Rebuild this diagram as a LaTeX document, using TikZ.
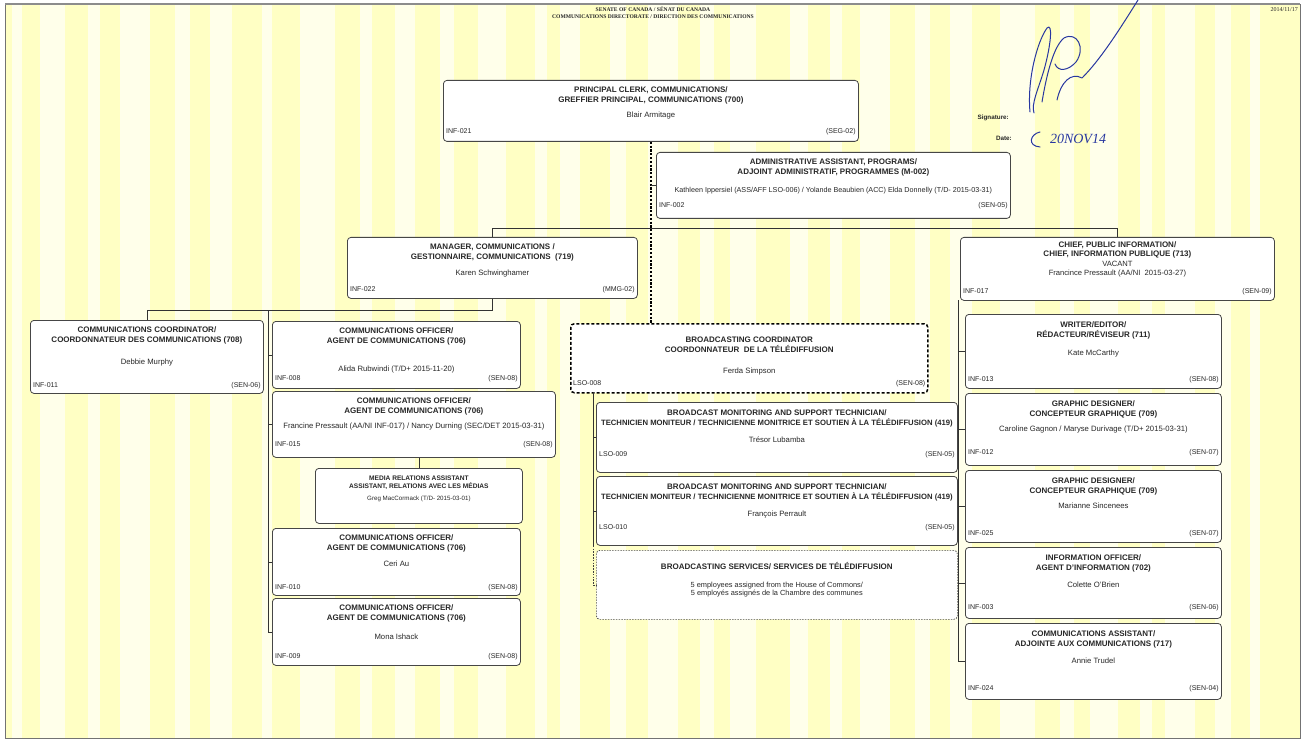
\documentclass[tikz,border=0pt]{standalone}
\usepackage{fontspec}
\setmainfont{Liberation Sans}
\newfontfamily\serifhdr{Liberation Serif}
\usetikzlibrary{calc}
\definecolor{paper}{RGB}{255,255,196}
\definecolor{stripe}{RGB}{255,255,234}
\definecolor{inkblue}{RGB}{40,55,160}
\definecolor{boxline}{RGB}{70,70,70}
\definecolor{txt}{RGB}{40,40,40}
\tikzset{
  orgnode/.style={draw=boxline, line width=0.8pt, rounded corners=3.5pt, fill=white, inner sep=0pt},
  dashbox/.style={draw=black, line width=1.5pt, dash pattern=on 3pt off 2pt},
  sdash/.style={draw=black!70, line width=0.7pt, dash pattern=on 1.5pt off 1.2pt},
  ttl/.style={anchor=north, align=center, inner sep=0pt, text=txt, font=\fontsize{8}{10}\selectfont\bfseries},
  per/.style={anchor=north, align=center, inner sep=0pt, text=txt, font=\fontsize{7.7}{9}\selectfont},
  cod/.style={inner sep=0pt, text=txt, font=\fontsize{7}{8}\selectfont},
  conn/.style={draw=black!80, line width=0.8pt},
  dconn/.style={draw=black, line width=1.4pt, dash pattern=on 2.2pt off 1.6pt},
  tdash/.style={draw=black!75, line width=0.7pt, dash pattern=on 1.6pt off 1.2pt},
  sigline/.style={draw=inkblue, line width=1pt, line cap=round, line join=round},
  hdr/.style={inner sep=0pt, text=black!85, font=\serifhdr\bfseries\fontsize{5.6}{6}\selectfont},
  lab/.style={inner sep=0pt, text=black!85, font=\bfseries\fontsize{6.3}{7}\selectfont},
}
\def\ttloff{4}
% #1 style, #2 name, #3 x1, #4 y1, #5 x2, #6 y2, #7 name baseline offset, #8 title, #9 person
\newcommand\orgbox[9][]{%
  \node[orgnode,#1, anchor=north west, minimum width={#5-#3}, minimum height={#6-#4}] (#2) at (#3,#4) {};
  \node[ttl] (#2-t) at ($(#2.north)+(0,\ttloff)$) {\rule{0pt}{8pt}#8};
  \node[per] (#2-p) at ($(#2.north)+(0,#7-7)$) {\rule{0pt}{7pt}#9};
}
\newcommand\orgcodes[4][7]{%
  \node[cod, anchor=base west] (#2-c) at ($(#2.south west)+(3,-#1)$) {#3};
  \node[cod, anchor=base east] (#2-g) at ($(#2.south east)+(-3,-#1)$) {#4};
}
\begin{document}
\begin{tikzpicture}[x=1pt,y=-1pt]
\useasboundingbox (0,0) rectangle (1305,743);
% paper
\fill[white] (0,0) rectangle (1305,743);
\fill[paper] (5,5) rectangle (1300,738);
\foreach \x/\w in {12/10,40/25,88/12,120/30,175/15,210/22,262/10,300/35,360/12,395/20,440/14,478/28,535/12,560/20,610/16,648/30,700/14,730/26,790/18,830/12,860/30,915/15,950/22,1000/35,1060/14,1090/28,1140/12,1165/30,1215/16,1250/10}
  \fill[stripe] (\x,5) rectangle ++(\w,733);
\draw[black!55, line width=1pt] (5,5) rectangle (1300,738);
\draw[black!45, line width=2.5pt] (5,4) -- (1300,4);
% header
\node[hdr] (h1) at (653,9.5) {SENATE OF CANADA / SÉNAT DU CANADA};
\node[hdr] (h2) at (653,16.5) {COMMUNICATIONS DIRECTORATE / DIRECTION DES COMMUNICATIONS};
\node[hdr, anchor=east, font=\serifhdr\fontsize{6}{6}\selectfont] (dt) at (1298,9.5) {2014/11/17};
% signature block
\node[lab, anchor=base east] (sl) at (1009,120) {Signature:};
\node[lab, anchor=base east] (dl) at (1012,141) {Date:};
\draw[sigline] (1030,112) .. controls (1027,80) and (1037,42) .. (1047,28) .. controls (1053,22) and (1051,45) .. (1044,70) .. controls (1038,90) and (1031,104) .. (1034,113);
\draw[sigline] (1042,102) .. controls (1047,72) and (1054,46) .. (1064,38) .. controls (1077,31) and (1086,48) .. (1076,62) .. controls (1068,71) and (1058,72) .. (1055,64);
\draw[sigline] (1057,100) .. controls (1061,82) and (1071,72) .. (1082,78) .. controls (1100,60) and (1118,32) .. (1138,0);
\draw[sigline] (1040,132) .. controls (1030,134) and (1027,146) .. (1040,147);
\node[inner sep=0pt, text=inkblue, font=\serifhdr\itshape\fontsize{14}{14}\selectfont] (hd) at (1078,139) {20NOV14};
% top level
\orgbox{P}{443}{80}{858}{141}{37}{PRINCIPAL CLERK, COMMUNICATIONS/\\GREFFIER PRINCIPAL, COMMUNICATIONS (700)}{Blair Armitage}
\orgcodes[8]{P}{INF-021}{(SEG-02)}
\orgbox{A}{656}{152}{1010}{218}{40}{ADMINISTRATIVE ASSISTANT, PROGRAMS/\\ADJOINT ADMINISTRATIF, PROGRAMMES (M-002)}{{\fontsize{7.2}{9}\selectfont Kathleen Ippersiel (ASS/AFF LSO-006) / Yolande Beaubien (ACC) Elda Donnelly (T/D- 2015-03-31)}}
\orgcodes[11]{A}{INF-002}{(SEN-05)}
\orgbox{M}{347}{237}{637}{298}{38}{MANAGER, COMMUNICATIONS /\\GESTIONNAIRE, COMMUNICATIONS\ \ (719)}{Karen Schwinghamer}
\orgcodes{M}{INF-022}{(MMG-02)}
% chief
\node[orgnode, anchor=north west, minimum width={314}, minimum height={63}] (C) at (960,237) {};
\node[ttl, font=\fontsize{8}{9.6}\selectfont\bfseries] (C-t) at ($(C.north)+(0,2)$) {\rule{0pt}{8pt}CHIEF, PUBLIC INFORMATION/\\CHIEF, INFORMATION PUBLIQUE (713)};
\node[per, font=\fontsize{7.6}{9.4}\selectfont] (C-p) at ($(C.north)+(0,22)$) {\rule{0pt}{7pt}VACANT\\Francince Pressault (AA/NI\ \ 2015-03-27)};
\orgcodes{C}{INF-017}{(SEN-09)}
% manager's column
\orgbox{K}{30}{320}{263}{393}{44}{COMMUNICATIONS COORDINATOR/\\COORDONNATEUR DES COMMUNICATIONS (708)}{Debbie Murphy}
\orgcodes[6]{K}{INF-011}{(SEN-06)}
\orgbox{O1}{272}{321}{520}{388}{50}{COMMUNICATIONS OFFICER/\\AGENT DE COMMUNICATIONS (706)}{Alida Rubwindi (T/D+ 2015-11-20)}
\orgcodes[8]{O1}{INF-008}{(SEN-08)}
\orgbox{O2}{272}{391}{555}{457}{37}{COMMUNICATIONS OFFICER/\\AGENT DE COMMUNICATIONS (706)}{Francine Pressault (AA/NI INF-017) / Nancy Durning (SEC/DET 2015-03-31)}
\orgcodes[11]{O2}{INF-015}{(SEN-08)}
\node[orgnode, anchor=north west, minimum width={207}, minimum height={55}] (MR) at (315,468) {};
\node[ttl, font=\fontsize{6.6}{8}\selectfont\bfseries] (MR-t) at ($(MR.north)+(0,5.5)$) {\rule{0pt}{7pt}MEDIA RELATIONS ASSISTANT\\ASSISTANT, RELATIONS AVEC LES MÉDIAS};
\node[per, font=\fontsize{6.2}{7}\selectfont] (MR-p) at ($(MR.north)+(0,26)$) {\rule{0pt}{6pt}Greg MacCormack (T/D- 2015-03-01)};
\orgbox{O3}{272}{528}{520}{595}{38}{COMMUNICATIONS OFFICER/\\AGENT DE COMMUNICATIONS (706)}{Ceri Au}
\orgcodes[6]{O3}{INF-010}{(SEN-08)}
\orgbox{O4}{272}{598}{520}{665}{41}{COMMUNICATIONS OFFICER/\\AGENT DE COMMUNICATIONS (706)}{Mona Ishack}
\orgcodes{O4}{INF-009}{(SEN-08)}
% broadcasting
\def\ttloff{11}
\orgbox[dashbox]{BC}{570}{323}{927}{392}{50}{BROADCASTING COORDINATOR\\COORDONNATEUR\ \ DE LA TÉLÉDIFFUSION}{Ferda Simpson}
\orgcodes[8]{BC}{LSO-008}{(SEN-08)}
\def\ttloff{5}
\orgbox{T1}{596}{402}{957}{472}{40}{BROADCAST MONITORING AND SUPPORT TECHNICIAN/\\{\fontsize{7.7}{10}\selectfont TECHNICIEN MONITEUR / TECHNICIENNE MONITRICE ET SOUTIEN À LA TÉLÉDIFFUSION (419)}}{Trésor Lubamba}
\orgcodes[16]{T1}{LSO-009}{(SEN-05)}
\orgbox{T2}{596}{476}{957}{545}{40}{BROADCAST MONITORING AND SUPPORT TECHNICIAN/\\{\fontsize{7.7}{10}\selectfont TECHNICIEN MONITEUR / TECHNICIENNE MONITRICE ET SOUTIEN À LA TÉLÉDIFFUSION (419)}}{François Perrault}
\orgcodes[16]{T2}{LSO-010}{(SEN-05)}
\node[orgnode, sdash, anchor=north west, minimum width={361}, minimum height={69}] (S) at (596,550) {};
\node[ttl] (S-t) at ($(S.north)+(0,11)$) {\rule{0pt}{8pt}BROADCASTING SERVICES/ SERVICES DE TÉLÉDIFFUSION};
\node[per, font=\fontsize{7.4}{8.5}\selectfont] (S-p) at ($(S.north)+(0,30)$) {\rule{0pt}{7pt}5 employees assigned from the House of Commons/\\5 employés assignés de la Chambre des communes};
% right column
\def\ttloff{5}
\orgbox{W}{965}{314}{1221}{388}{41}{WRITER/EDITOR/\\RÉDACTEUR/RÉVISEUR (711)}{Kate McCarthy}
\orgcodes{W}{INF-013}{(SEN-08)}
\orgbox{GD1}{965}{393}{1221}{465}{38}{GRAPHIC DESIGNER/\\CONCEPTEUR GRAPHIQUE (709)}{Caroline Gagnon / Maryse Durivage (T/D+ 2015-03-31)}
\orgcodes[11]{GD1}{INF-012}{(SEN-07)}
\orgbox{GD2}{965}{470}{1221}{542}{38}{GRAPHIC DESIGNER/\\CONCEPTEUR GRAPHIQUE (709)}{Marianne Sincenees}
\orgcodes{GD2}{INF-025}{(SEN-07)}
\orgbox{IO}{965}{547}{1221}{618}{40}{INFORMATION OFFICER/\\AGENT D'INFORMATION (702)}{Colette O'Brien}
\orgcodes[9]{IO}{INF-003}{(SEN-06)}
\orgbox{CA}{965}{623}{1221}{699}{40}{COMMUNICATIONS ASSISTANT/\\ADJOINTE AUX COMMUNICATIONS (717)}{Annie Trudel}
\orgcodes[9]{CA}{INF-024}{(SEN-04)}
% connectors
\draw[dconn] (P.south) -- (P.south |- BC.north);
\draw[conn] (A.west -| P.south) -- (A.west);
\draw[conn] (M.north) -- ++(0,-9) -| (C.north);
\draw[conn] (M.south) -- ++(0,12) -| (K.north);
\coordinate (lc) at (268,310);
\draw[conn] (lc) |- (O4.west);
\foreach \b in {O1,O2,O3} \draw[conn] (\b.west -| lc) -- (\b.west);
\draw[conn] (O2.south -| MR.north) -- (MR.north);
\coordinate (tc) at (593,392);
\draw[conn] (tc) -- (tc |- T2.south);
\foreach \b in {T1,T2} \draw[conn] (\b.west -| tc) -- (\b.west);
\draw[tdash] (tc |- T2.south) |- (S.west);
\coordinate (rc) at (958,300);
\draw[conn] (rc) |- (CA.west);
\foreach \b in {W,GD1,GD2,IO} \draw[conn] (\b.west -| rc) -- (\b.west);
\end{tikzpicture}
\end{document}
